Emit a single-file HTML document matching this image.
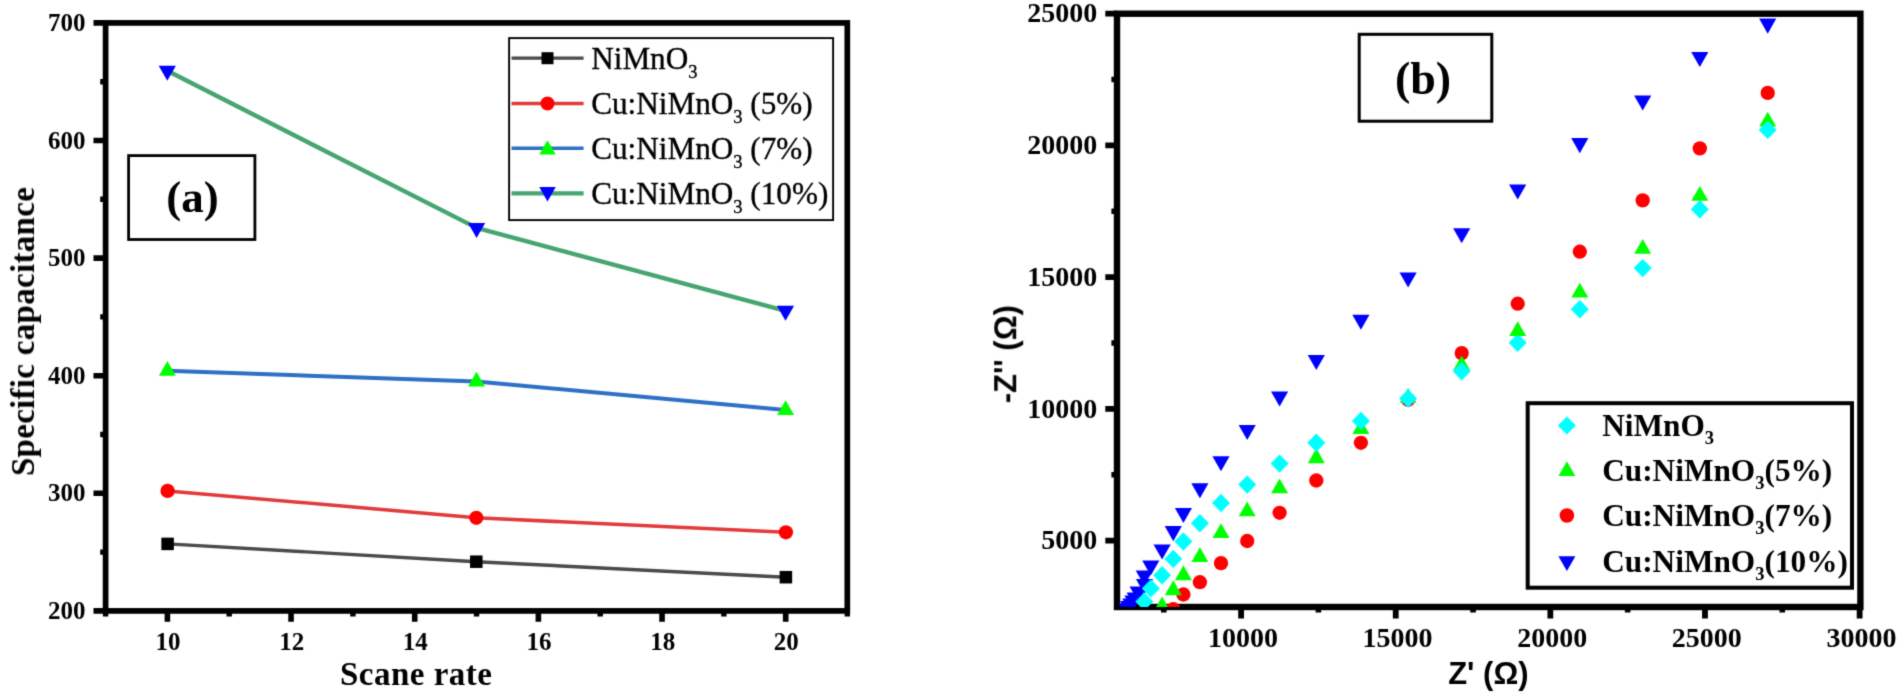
<!DOCTYPE html>
<html lang="en">
<head>
<meta charset="utf-8">
<title>Specific capacitance vs scan rate and Nyquist plot</title>
<style>
html,body{margin:0;padding:0;background:#fff;}
body{width:1900px;height:694px;overflow:hidden;}
svg{display:block;}
svg text{white-space:pre;}
</style>
</head>
<body>
<svg width="1900" height="694" viewBox="0 0 1900 694">
<defs><filter id="soft" x="0" y="0" width="100%" height="100%" filterUnits="userSpaceOnUse" color-interpolation-filters="sRGB"><feConvolveMatrix order="3" kernelMatrix="1 5 1 5 25 5 1 5 1" divisor="49" edgeMode="duplicate" preserveAlpha="false"/></filter></defs>
<rect width="1900" height="694" fill="#fff"/>
<g filter="url(#soft)">
<g id="chart-a">
<polyline points="167.6,543.9 476.3,561.7 785.9,577.2" fill="none" stroke="#4a4a4a" stroke-width="3.4" stroke-linejoin="round"/>
<rect x="161.35" y="537.65" width="12.5" height="12.5" fill="#000"/>
<rect x="470.05" y="555.45" width="12.5" height="12.5" fill="#000"/>
<rect x="779.65" y="570.95" width="12.5" height="12.5" fill="#000"/>
<polyline points="167.6,490.9 476.3,517.8 785.9,532.3" fill="none" stroke="#e23a3a" stroke-width="3.5" stroke-linejoin="round"/>
<circle cx="167.6" cy="490.9" r="7.15" fill="#ff0000"/>
<circle cx="476.3" cy="517.8" r="7.15" fill="#ff0000"/>
<circle cx="785.9" cy="532.3" r="7.15" fill="#ff0000"/>
<polyline points="167.4,370.8 476.5,381.5 785.6,410" fill="none" stroke="#2f6fc6" stroke-width="3.9" stroke-linejoin="round"/>
<polygon points="167.4,360.94 158.9,375.73 175.9,375.73" fill="#00ff00"/>
<polygon points="476.5,371.64 468,386.43 485,386.43" fill="#00ff00"/>
<polygon points="785.6,400.14 777.1,414.93 794.1,414.93" fill="#00ff00"/>
<polyline points="167.3,70.8 476.6,227.9 785.5,310.8" fill="none" stroke="#47a571" stroke-width="4.4" stroke-linejoin="round"/>
<polygon points="158.7,65.78 175.9,65.78 167.3,80.83" fill="#0000ff"/>
<polygon points="468,222.88 485.2,222.88 476.6,237.93" fill="#0000ff"/>
<polygon points="776.9,305.78 794.1,305.78 785.5,320.83" fill="#0000ff"/>
<rect x="105.6" y="22.9" width="741.7" height="588" fill="none" stroke="#000" stroke-width="5.7"/>
<path d="M93.5 22.9H105.6M93.5 140.5H105.6M93.5 258.1H105.6M93.5 375.7H105.6M93.5 493.3H105.6M93.5 610.9H105.6M167.4 610.9V621.8M291.06 610.9V621.8M414.72 610.9V621.8M538.38 610.9V621.8M662.04 610.9V621.8M785.7 610.9V621.8" stroke="#000" stroke-width="5.6" fill="none"/>
<path d="M100.2 81.7H105.6M100.2 199.3H105.6M100.2 316.9H105.6M100.2 434.5H105.6M100.2 552.1H105.6M105.6 610.9V616.6M229.23 610.9V616.6M352.89 610.9V616.6M476.55 610.9V616.6M600.21 610.9V616.6M723.87 610.9V616.6M847.3 610.9V616.6" stroke="#000" stroke-width="5.4" fill="none"/>
<g font-family='"Liberation Serif", "Times New Roman", serif' font-weight="bold" font-size="25" fill="#000">
<text x="85.6" y="30.9" text-anchor="end">700</text>
<text x="85.6" y="148.5" text-anchor="end">600</text>
<text x="85.6" y="266.1" text-anchor="end">500</text>
<text x="85.6" y="383.7" text-anchor="end">400</text>
<text x="85.6" y="501.3" text-anchor="end">300</text>
<text x="85.6" y="618.9" text-anchor="end">200</text>
<text x="168" y="650.3" text-anchor="middle">10</text>
<text x="291.66" y="650.3" text-anchor="middle">12</text>
<text x="415.32" y="650.3" text-anchor="middle">14</text>
<text x="538.98" y="650.3" text-anchor="middle">16</text>
<text x="662.64" y="650.3" text-anchor="middle">18</text>
<text x="786.3" y="650.3" text-anchor="middle">20</text>
</g>
<text x="416.2" y="684.8" text-anchor="middle" font-family='"Liberation Serif", "Times New Roman", serif' font-weight="bold" font-size="33" letter-spacing="0.5">Scane rate</text>
<text transform="translate(34 331.5) rotate(-90)" text-anchor="middle" font-family='"Liberation Serif", "Times New Roman", serif' font-weight="bold" font-size="33" letter-spacing="0.3">Specific capacitance</text>
<rect x="128.6" y="155.6" width="126.3" height="83.9" fill="#fff" stroke="#000" stroke-width="2.8"/>
<text x="192.4" y="212.3" text-anchor="middle" font-family='"Liberation Serif", "Times New Roman", serif' font-weight="bold" font-size="45">(a)</text>
<rect x="509.1" y="38.1" width="324" height="182" fill="#fff" stroke="#000" stroke-width="1.9"/>
<line x1="511.5" y1="58.2" x2="583.6" y2="58.2" stroke="#4a4a4a" stroke-width="3.2"/>
<line x1="511.5" y1="103.5" x2="583.6" y2="103.5" stroke="#e23a3a" stroke-width="3.4"/>
<line x1="511.5" y1="148.2" x2="583.6" y2="148.2" stroke="#2f6fc6" stroke-width="3.6"/>
<line x1="511.5" y1="193.4" x2="583.6" y2="193.4" stroke="#47a571" stroke-width="4.2"/>
<rect x="541.5" y="52.2" width="12" height="12" fill="#000"/>
<circle cx="547.5" cy="103.5" r="7" fill="#ff0000"/>
<polygon points="547.5,140.13 539.25,154.48 555.75,154.48" fill="#00ff00"/>
<polygon points="539.25,187.09 555.75,187.09 547.5,201.53" fill="#0000ff"/>
<g font-family='"Liberation Serif", "Times New Roman", serif' font-size="31.2" fill="#000" stroke="#000" stroke-width="0.35">
<text x="591.2" y="68.9">NiMnO<tspan font-size="18.5" dy="8.6">3</tspan><tspan dy="-8.6"></tspan></text>
<text x="591.2" y="114.2">Cu:NiMnO<tspan font-size="18.5" dy="8.6">3</tspan><tspan dy="-8.6"> (5%)</tspan></text>
<text x="591.2" y="158.9">Cu:NiMnO<tspan font-size="18.5" dy="8.6">3</tspan><tspan dy="-8.6"> (7%)</tspan></text>
<text x="591.2" y="204.3">Cu:NiMnO<tspan font-size="18.5" dy="8.6">3</tspan><tspan dy="-8.6"> (10%)</tspan></text>
</g>
</g>
<g id="chart-b">
<clipPath id="cb"><rect x="1117" y="13.7" width="743.4" height="593.3"/></clipPath>
<rect x="1117" y="13.7" width="743.4" height="593.3" fill="none" stroke="#000" stroke-width="6.4"/>
<path d="M1105.3 540.6H1117M1105.3 408.87H1117M1105.3 277.14H1117M1105.3 145.41H1117M1105.3 13.68H1117M1241.1 607V618.4M1395.73 607V618.4M1550.36 607V618.4M1704.99 607V618.4M1859.62 607V618.4" stroke="#000" stroke-width="5.8" fill="none"/>
<path d="M1111.4 474.74H1117M1111.4 343.01H1117M1111.4 211.28H1117M1111.4 79.55H1117M1163.78 607V612.6M1318.41 607V612.6M1473.04 607V612.6M1627.67 607V612.6M1782.3 607V612.6" stroke="#000" stroke-width="5.6" fill="none"/>
<g clip-path="url(#cb)">
<polygon points="1118.4,603.18 1135.6,603.18 1127,618.23" fill="#0000ff"/>
<polygon points="1120.1,601.08 1137.3,601.08 1128.7,616.13" fill="#0000ff"/>
<polygon points="1122.3,598.48 1139.5,598.48 1130.9,613.53" fill="#0000ff"/>
<polygon points="1124.4,595.38 1141.6,595.38 1133,610.43" fill="#0000ff"/>
<polygon points="1126.6,592.38 1143.8,592.38 1135.2,607.43" fill="#0000ff"/>
<polygon points="1129.6,586.38 1146.8,586.38 1138.2,601.43" fill="#0000ff"/>
<polygon points="1135.9,578.98 1153.1,578.98 1144.5,594.03" fill="#0000ff"/>
<polygon points="1135.7,570.38 1152.9,570.38 1144.3,585.43" fill="#0000ff"/>
<polygon points="1142.2,560.48 1159.4,560.48 1150.8,575.53" fill="#0000ff"/>
<polygon points="1153.5,544.38 1170.7,544.38 1162.1,559.43" fill="#0000ff"/>
<polygon points="1164.7,526.08 1181.9,526.08 1173.3,541.13" fill="#0000ff"/>
<polygon points="1174.8,507.88 1192,507.88 1183.4,522.93" fill="#0000ff"/>
<polygon points="1191.3,483.28 1208.5,483.28 1199.9,498.33" fill="#0000ff"/>
<polygon points="1212.4,456.18 1229.6,456.18 1221,471.23" fill="#0000ff"/>
<polygon points="1238.6,424.98 1255.8,424.98 1247.2,440.03" fill="#0000ff"/>
<polygon points="1271,391.48 1288.2,391.48 1279.6,406.53" fill="#0000ff"/>
<polygon points="1307.7,354.88 1324.9,354.88 1316.3,369.93" fill="#0000ff"/>
<polygon points="1352.3,314.78 1369.5,314.78 1360.9,329.83" fill="#0000ff"/>
<polygon points="1399.5,272.38 1416.7,272.38 1408.1,287.43" fill="#0000ff"/>
<polygon points="1453.1,228.28 1470.3,228.28 1461.7,243.33" fill="#0000ff"/>
<polygon points="1509.1,184.38 1526.3,184.38 1517.7,199.43" fill="#0000ff"/>
<polygon points="1571.2,138.08 1588.4,138.08 1579.8,153.13" fill="#0000ff"/>
<polygon points="1634.1,95.48 1651.3,95.48 1642.7,110.53" fill="#0000ff"/>
<polygon points="1691.2,51.98 1708.4,51.98 1699.8,67.03" fill="#0000ff"/>
<polygon points="1759.1,18.58 1776.3,18.58 1767.7,33.63" fill="#0000ff"/>
<circle cx="1173.3" cy="609.2" r="7.15" fill="#ff0000"/>
<circle cx="1183.4" cy="594.5" r="7.15" fill="#ff0000"/>
<circle cx="1199.9" cy="582.2" r="7.15" fill="#ff0000"/>
<circle cx="1221" cy="563.1" r="7.15" fill="#ff0000"/>
<circle cx="1247.2" cy="541" r="7.15" fill="#ff0000"/>
<circle cx="1279.6" cy="512.8" r="7.15" fill="#ff0000"/>
<circle cx="1316.3" cy="480.5" r="7.15" fill="#ff0000"/>
<circle cx="1360.9" cy="442.8" r="7.15" fill="#ff0000"/>
<circle cx="1408.1" cy="399.8" r="7.15" fill="#ff0000"/>
<circle cx="1461.7" cy="353.1" r="7.15" fill="#ff0000"/>
<circle cx="1517.7" cy="303.7" r="7.15" fill="#ff0000"/>
<circle cx="1579.8" cy="251.7" r="7.15" fill="#ff0000"/>
<circle cx="1642.7" cy="200.4" r="7.15" fill="#ff0000"/>
<circle cx="1699.8" cy="148.4" r="7.15" fill="#ff0000"/>
<circle cx="1767.7" cy="92.9" r="7.15" fill="#ff0000"/>
<polygon points="1517.7,333.6 1526.7,342.8 1517.7,352 1508.7,342.8" fill="#00ffff"/>
<polygon points="1699.8,200 1708.8,209.2 1699.8,218.4 1690.8,209.2" fill="#00ffff"/>
<polygon points="1162.1,596.54 1153.6,611.33 1170.6,611.33" fill="#00ff00"/>
<polygon points="1173.3,580.34 1164.8,595.13 1181.8,595.13" fill="#00ff00"/>
<polygon points="1183.4,565.34 1174.9,580.13 1191.9,580.13" fill="#00ff00"/>
<polygon points="1199.9,547.14 1191.4,561.93 1208.4,561.93" fill="#00ff00"/>
<polygon points="1221,523.14 1212.5,537.93 1229.5,537.93" fill="#00ff00"/>
<polygon points="1247.2,501.44 1238.7,516.23 1255.7,516.23" fill="#00ff00"/>
<polygon points="1279.6,478.44 1271.1,493.23 1288.1,493.23" fill="#00ff00"/>
<polygon points="1316.3,448.34 1307.8,463.13 1324.8,463.13" fill="#00ff00"/>
<polygon points="1360.9,419.14 1352.4,433.93 1369.4,433.93" fill="#00ff00"/>
<polygon points="1408.1,387.94 1399.6,402.73 1416.6,402.73" fill="#00ff00"/>
<polygon points="1461.7,355.54 1453.2,370.33 1470.2,370.33" fill="#00ff00"/>
<polygon points="1517.7,321.14 1509.2,335.93 1526.2,335.93" fill="#00ff00"/>
<polygon points="1579.8,282.74 1571.3,297.53 1588.3,297.53" fill="#00ff00"/>
<polygon points="1642.7,238.94 1634.2,253.73 1651.2,253.73" fill="#00ff00"/>
<polygon points="1699.8,185.94 1691.3,200.73 1708.3,200.73" fill="#00ff00"/>
<polygon points="1767.7,111.64 1759.2,126.43 1776.2,126.43" fill="#00ff00"/>
<polygon points="1144.3,592.4 1153.3,601.6 1144.3,610.8 1135.3,601.6" fill="#00ffff"/>
<polygon points="1150.8,579.2 1159.8,588.4 1150.8,597.6 1141.8,588.4" fill="#00ffff"/>
<polygon points="1162.1,566 1171.1,575.2 1162.1,584.4 1153.1,575.2" fill="#00ffff"/>
<polygon points="1173.3,549.7 1182.3,558.9 1173.3,568.1 1164.3,558.9" fill="#00ffff"/>
<polygon points="1183.4,532.3 1192.4,541.5 1183.4,550.7 1174.4,541.5" fill="#00ffff"/>
<polygon points="1199.9,514.1 1208.9,523.3 1199.9,532.5 1190.9,523.3" fill="#00ffff"/>
<polygon points="1221,493.8 1230,503 1221,512.2 1212,503" fill="#00ffff"/>
<polygon points="1247.2,475.4 1256.2,484.6 1247.2,493.8 1238.2,484.6" fill="#00ffff"/>
<polygon points="1279.6,454.4 1288.6,463.6 1279.6,472.8 1270.6,463.6" fill="#00ffff"/>
<polygon points="1316.3,433.6 1325.3,442.8 1316.3,452 1307.3,442.8" fill="#00ffff"/>
<polygon points="1360.9,411.7 1369.9,420.9 1360.9,430.1 1351.9,420.9" fill="#00ffff"/>
<polygon points="1408.1,389.3 1417.1,398.5 1408.1,407.7 1399.1,398.5" fill="#00ffff"/>
<polygon points="1461.7,362 1470.7,371.2 1461.7,380.4 1452.7,371.2" fill="#00ffff"/>
<polygon points="1579.8,300 1588.8,309.2 1579.8,318.4 1570.8,309.2" fill="#00ffff"/>
<polygon points="1642.7,258.9 1651.7,268.1 1642.7,277.3 1633.7,268.1" fill="#00ffff"/>
<polygon points="1767.7,120.7 1776.7,129.9 1767.7,139.1 1758.7,129.9" fill="#00ffff"/>
</g>
<g font-family='"Liberation Serif", "Times New Roman", serif' font-weight="bold" font-size="28" fill="#000">
<text x="1097.2" y="549.4" text-anchor="end">5000</text>
<text x="1097.2" y="417.67" text-anchor="end">10000</text>
<text x="1097.2" y="285.94" text-anchor="end">15000</text>
<text x="1097.2" y="154.21" text-anchor="end">20000</text>
<text x="1097.2" y="22.48" text-anchor="end">25000</text>
<text x="1242.9" y="647.4" text-anchor="middle">10000</text>
<text x="1397.53" y="647.4" text-anchor="middle">15000</text>
<text x="1552.16" y="647.4" text-anchor="middle">20000</text>
<text x="1706.79" y="647.4" text-anchor="middle">25000</text>
<text x="1861.42" y="647.4" text-anchor="middle">30000</text>
</g>
<text x="1488.4" y="684.3" text-anchor="middle" font-family='"Liberation Sans", Arial, sans-serif' font-weight="bold" font-size="31">Z' (Ω)</text>
<text transform="translate(1016.2 354.2) rotate(-90)" text-anchor="middle" font-family='"Liberation Sans", Arial, sans-serif' font-weight="bold" font-size="31">-Z'' (Ω)</text>
<rect x="1359.2" y="34.3" width="132.6" height="86.9" fill="#fff" stroke="#000" stroke-width="3"/>
<text x="1423" y="93.9" text-anchor="middle" font-family='"Liberation Serif", "Times New Roman", serif' font-weight="bold" font-size="46">(b)</text>
<rect x="1527.7" y="403.2" width="324.3" height="184.5" fill="#fff" stroke="#000" stroke-width="4"/>
<polygon points="1566.9,416.4 1575.9,425.4 1566.9,434.4 1557.9,425.4" fill="#00ffff"/>
<polygon points="1566.9,461.24 1558.4,476.03 1575.4,476.03" fill="#00ff00"/>
<circle cx="1566.9" cy="515.5" r="7.25" fill="#ff0000"/>
<polygon points="1558.4,556.24 1575.4,556.24 1566.9,571.12" fill="#0000ff"/>
<g font-family='"Liberation Serif", "Times New Roman", serif' font-weight="bold" font-size="31.3" fill="#000">
<text x="1602.2" y="436">NiMnO<tspan font-size="18.5" dy="8">3</tspan><tspan dy="-8"></tspan></text>
<text x="1602.2" y="480.8">Cu:NiMnO<tspan font-size="18.5" dy="8">3</tspan><tspan dy="-8">(5%)</tspan></text>
<text x="1602.2" y="525.5">Cu:NiMnO<tspan font-size="18.5" dy="8">3</tspan><tspan dy="-8">(7%)</tspan></text>
<text x="1602.2" y="571.5">Cu:NiMnO<tspan font-size="18.5" dy="8">3</tspan><tspan dy="-8">(10%)</tspan></text>
</g>
</g>
</g>
</svg>
</body>
</html>
